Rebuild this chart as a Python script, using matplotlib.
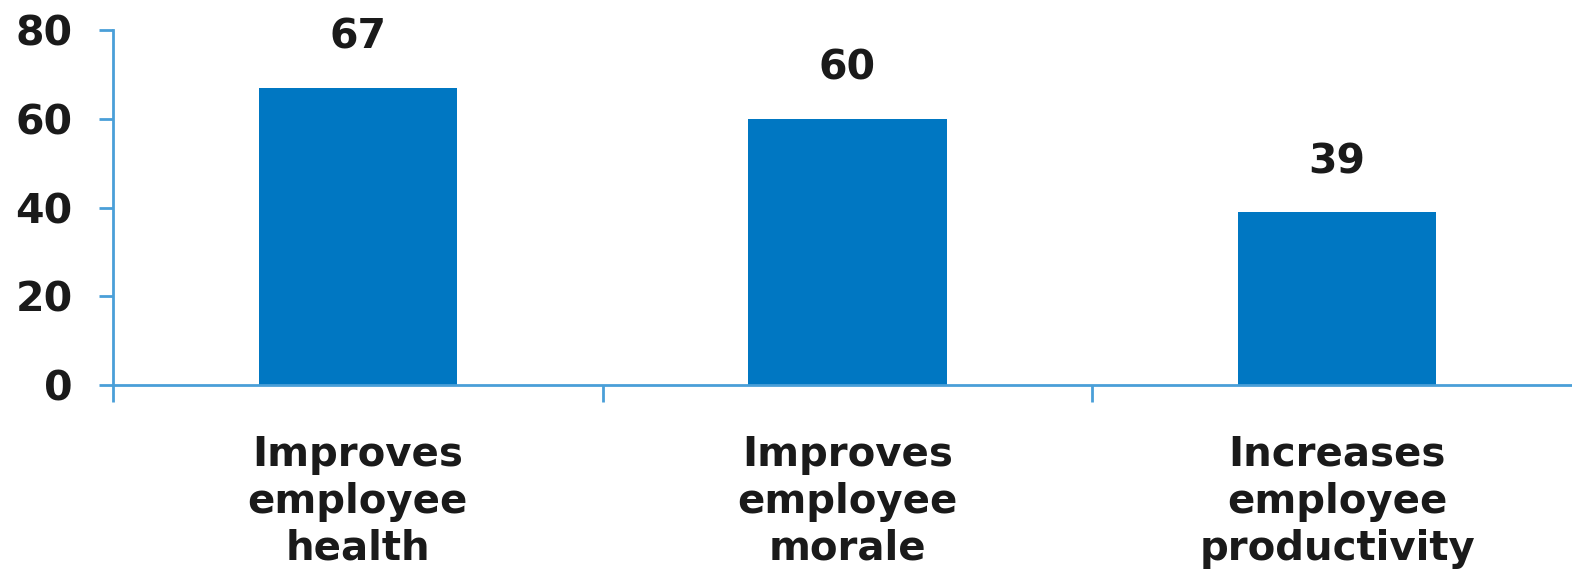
import matplotlib
matplotlib.use("Agg")
import matplotlib.pyplot as plt

categories = ["Improves\nemployee\nhealth", "Improves\nemployee\nmorale", "Increases\nemployee\nproductivity"]
values = [67, 60, 39]
yticks = [0, 20, 40, 60, 80]

bar_color = "#0077C2"
axis_color = "#4A9FD8"
text_color = "#1A1A1A"

plt.rcParams['font.family'] = ['DejaVu Sans']
plt.rcParams['font.weight'] = 'bold'

fig = plt.figure(figsize=(15.72, 5.75), dpi=100)
left = 113 / 1572
right = 1582 / 1572
bottom = 1 - 385 / 575
top = 1 - 30 / 575
ax = fig.add_axes([left, bottom, right - left, top - bottom])

x = list(range(len(values)))
bars = ax.bar(x, values, width=0.405, color=bar_color, zorder=2)
ax.set_xlim(-0.5, len(values) - 0.5)
ax.set_ylim(0, 80)

for xi, v in zip(x, values):
    ax.annotate(str(v), (xi, v), xytext=(0, 28), textcoords='offset points',
                ha='center', va='baseline', fontsize=29.5, fontweight='bold', color=text_color)

for s in ['top', 'right']:
    ax.spines[s].set_visible(False)
for s in ['left', 'bottom']:
    ax.spines[s].set_color(axis_color)
    ax.spines[s].set_linewidth(2)
ax.spines['left'].set_bounds(0, 80)

ax.set_yticks(yticks)
ax.set_yticklabels([str(t) for t in yticks], fontsize=29.5, fontweight='bold', color=text_color)
ax.tick_params(axis='y', length=10, width=2, color=axis_color, pad=19)

ax.set_xticks([i + 0.5 for i in x[:-1]] + [-0.5], minor=False)
ax.set_xticklabels([])
ax.tick_params(axis='x', length=12, width=2, color=axis_color)
ax.set_xticks(x, minor=True)
ax.set_xticklabels(categories, minor=True, fontsize=29, fontweight='bold', color=text_color, linespacing=1.22)
ax.tick_params(axis='x', which='minor', length=0, pad=36)

fig.savefig("out.png", dpi=100)
